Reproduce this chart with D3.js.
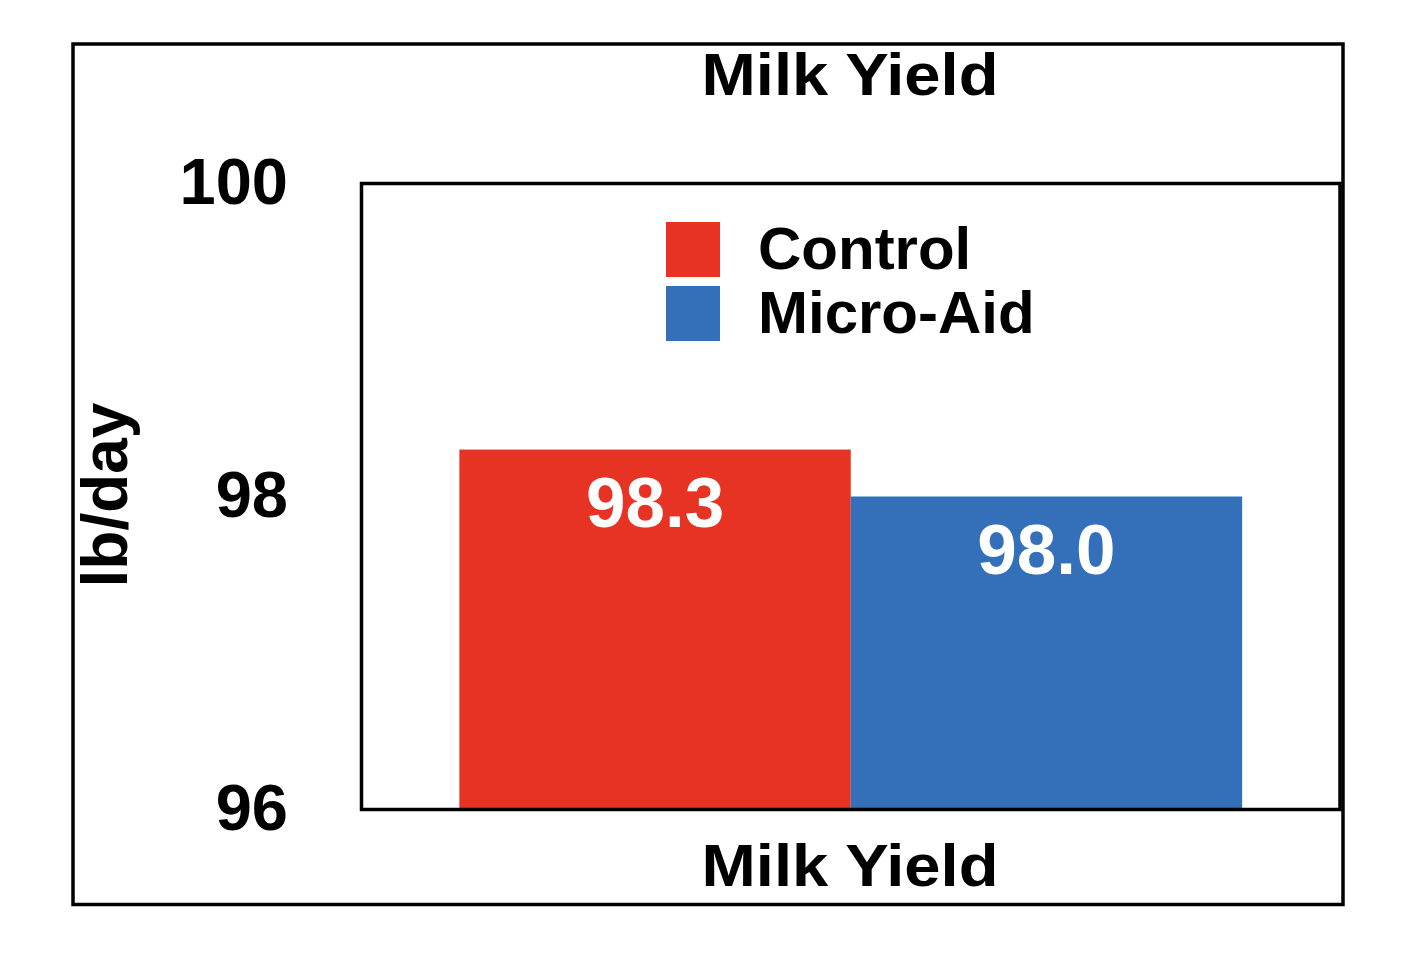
<!DOCTYPE html>
<html>
<head>
<meta charset="utf-8">
<script src="https://cdn.jsdelivr.net/npm/d3@7"></script>
<style>
  html, body { margin: 0; padding: 0; background: #fff; }
  svg { display: block; font-family: "Liberation Sans", Arial, sans-serif; }
</style>
</head>
<body>
<svg id="chart" width="1428" height="958"></svg>
<script>
const categories = ["Control", "Micro-Aid"];
const values = [98.3, 98.0];
const valueLabels = ["98.3", "98.0"];
const colors = ["#e63324", "#3370b9"];
const yTicks = [96, 98, 100];
const title = "Milk Yield";
const xLabel = "Milk Yield";
const yLabel = "lb/day";

const svg = d3.select("#chart");
const plot = { left: 361.5, right: 1340, top: 183.5, bottom: 809.5 };

const x = d3.scaleBand().domain(categories)
  .range([plot.left, plot.right]).paddingInner(0).paddingOuter(0.25);
const y = d3.scaleLinear().domain([96, 100]).range([plot.bottom, plot.top]);

// outer frame
svg.append("rect").attr("x", 73).attr("y", 44).attr("width", 1270).attr("height", 860.5)
  .attr("fill", "none").attr("stroke", "#000").attr("stroke-width", 3.5);

// title
svg.append("text").attr("x", 850).attr("y", 95).attr("text-anchor", "middle")
  .attr("font-size", 60).attr("font-weight", "bold")
  .attr("textLength", 297).attr("lengthAdjust", "spacingAndGlyphs")
  .text(title);

// bars
svg.append("g").selectAll("rect").data(categories).join("rect")
  .attr("x", d => x(d)).attr("width", x.bandwidth())
  .attr("y", (d, i) => y(values[i]))
  .attr("height", (d, i) => plot.bottom - y(values[i]))
  .attr("fill", (d, i) => colors[i]);

// value labels
svg.append("g").selectAll("text").data(categories).join("text")
  .attr("x", d => x(d) + x.bandwidth() / 2)
  .attr("y", (d, i) => y(values[i]) + 77)
  .attr("text-anchor", "middle").attr("fill", "#fff")
  .attr("font-size", 71).attr("font-weight", "bold")
  .text((d, i) => valueLabels[i]);

// plot frame
svg.append("rect").attr("x", plot.left).attr("y", plot.top)
  .attr("width", plot.right - plot.left).attr("height", plot.bottom - plot.top)
  .attr("fill", "none").attr("stroke", "#000").attr("stroke-width", 3.5);

// y axis
const yAxis = svg.append("g").attr("transform", `translate(${plot.left},0)`)
  .call(d3.axisLeft(y).tickValues(yTicks).tickSize(0).tickPadding(73.5).tickFormat(d3.format("d")));
yAxis.select(".domain").remove();
yAxis.selectAll("text").attr("font-size", 65).attr("font-weight", "bold")
  .attr("font-family", "Liberation Sans, Arial, sans-serif").attr("fill", "#000")
  .attr("dy", "0.31em");

// y label
svg.append("text").attr("transform", "translate(127,495) rotate(-90)")
  .attr("text-anchor", "middle").attr("font-size", 64).attr("font-weight", "bold")
  .text(yLabel);

// x label
svg.append("text").attr("x", 850).attr("y", 886).attr("text-anchor", "middle")
  .attr("font-size", 60).attr("font-weight", "bold")
  .attr("textLength", 297).attr("lengthAdjust", "spacingAndGlyphs")
  .text(xLabel);

// legend
const legend = svg.append("g");
const lg = legend.selectAll("g").data(categories).join("g")
  .attr("transform", (d, i) => `translate(666,${222 + i * 64})`);
lg.append("rect").attr("width", 54).attr("height", 55).attr("fill", (d, i) => colors[i]);
lg.append("text").attr("x", 92).attr("y", 47).attr("font-size", 60).attr("font-weight", "bold")
  .text(d => d);
</script>
</body>
</html>
